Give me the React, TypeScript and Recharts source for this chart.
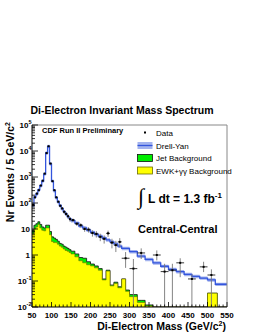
import React from 'react';
import { ComposedChart, Area, Line, Scatter, ErrorBar, XAxis, YAxis, ReferenceLine } from 'recharts';

// Drell-Yan expectation, events / 5 GeV, variable bins (left edges + last right edge)
const dyEdges = [
  50, 55, 60, 65, 70, 75, 80, 85, 90, 95, 100, 105, 110, 115, 120, 125, 130, 135, 140, 145,
  150, 160, 170, 180, 190, 200, 210, 220, 230, 240, 250, 260, 270,
  280, 300, 320, 340, 360, 380, 400, 420, 440, 460, 480, 500, 520, 540, 550,
];
const dyValues = [
  80, 170, 225, 320, 460, 700, 1300, 8500, 15000, 3200, 700, 300, 160, 110, 80, 60, 47, 38, 30, 25,
  21, 17, 13, 11, 9, 7.5, 6.2, 5.3, 4.5, 3.8, 3.2, 2.7, 2.2,
  1.8, 1.35, 0.9, 0.68, 0.5, 0.37, 0.28, 0.23, 0.18, 0.15, 0.13, 0.11, 0.075, 0.075,
];
const DY_SYST = 0.15;

// backgrounds, events / 5 GeV
const bgEdges = [
  50, 55, 60, 65, 70, 75, 80, 85, 90, 95, 100, 105, 110, 115, 120, 125, 130, 135, 140, 145,
  150, 160, 170, 180, 190, 200, 210, 220, 230, 240, 250, 260, 270, 280, 290, 300, 310, 320, 330, 340, 350,
  360, 500, 525, 550,
];
const ewkValues = [
  6.5, 10, 12, 15, 11, 9, 8.5, 11, 11, 6, 3.3, 3.0, 3.0, 2.6, 2.2, 2.0, 1.7, 1.5, 1.4, 1.25,
  1.1, 0.85, 0.6, 0.5, 0.42, 0.38, 0.32, 0.26, 0.11, 0.24, 0.065, 0.08, 0.055, 0.12, 0.04, 0.025, 0.025, 0.015, 0.015, 0.011, 0.011,
  0, 0.034, 0,
];
const jetValues = [
  2.5, 4, 4, 4, 4, 3, 2.5, 3, 3, 2, 1.7, 1.5, 1.0, 0.8, 0.6, 0.6, 0.5, 0.5, 0.4, 0.35,
  0.3, 0.25, 0.2, 0.25, 0.13, 0.07, 0.06, 0.04, 0.01, 0.02, 0.005, 0.01, 0.005, 0, 0.005, 0.005, 0.005, 0.003, 0.003, 0.001, 0.001,
  0, 0, 0,
];

// data, low/mid mass (symmetric errors)
const dataMassA = [
  52.5, 57.5, 62.5, 67.5, 72.5, 77.5, 82.5, 87.5, 92.5, 97.5, 102.5, 107.5, 112.5, 117.5, 122.5, 127.5, 132.5, 137.5, 142.5, 147.5,
  155, 165, 175, 185, 195, 205, 215, 225, 235, 245, 255, 265, 275,
];
const dataValA = [
  85, 165, 230, 310, 470, 720, 1350, 8300, 15200, 3300, 690, 310, 165, 112, 78, 62, 46, 38, 31, 24,
  22, 16, 14, 10, 9.5, 7, 6.5, 5, 4.2, 6.8, 3.0, 2.4, 3.2,
];
const dataErrA = [
  9, 13, 15, 18, 22, 27, 37, 91, 123, 57, 26, 18, 13, 11, 9, 8, 7, 6, 5.6, 4.9,
  3.3, 2.8, 2.6, 2.2, 2.2, 1.9, 1.8, 1.6, 1.45, 1.85, 1.2, 1.1, 1.26,
];
const dataHalfA = [
  2.5, 2.5, 2.5, 2.5, 2.5, 2.5, 2.5, 2.5, 2.5, 2.5, 2.5, 2.5, 2.5, 2.5, 2.5, 2.5, 2.5, 2.5, 2.5, 2.5,
  5, 5, 5, 5, 5, 5, 5, 5, 5, 5, 5, 5, 5,
];
// data, high mass (bar ends)
const dataMassB = [290, 310, 330, 370, 390, 410, 430, 460, 490, 510];
const dataValB = [0.75, 0.3, 1.2, 1.0, 0.23, 0.26, 0.5, 0.12, 0.35, 0.17];
const dataLoB = [0.32, 0.01, 0.7, 0.62, 0.01, 0.01, 0.14, 0.01, 0.22, 0.01];
const dataHiB = [1.3, 0.7, 1.8, 1.5, 0.46, 0.46, 0.75, 0.18, 0.55, 0.28];

const xTicks: number[] = [];
for (let m = 50; m <= 550; m += 10) xTicks.push(m);
const yMajors = [0.01, 0.1, 1, 10, 100, 1000, 10000, 100000];
const yTicks: number[] = [];
yMajors.forEach((d, i) => {
  yTicks.push(d);
  if (i < yMajors.length - 1) for (let k = 2; k <= 9; k++) yTicks.push(d * k);
});

const FLOOR = 0.01;
const FONT = 'Liberation Sans, Arial, Helvetica, sans-serif';

const dyRows = dyEdges.map((m, i) => {
  const v = dyValues[Math.min(i, dyValues.length - 1)];
  return { m, v, band: [v * (1 - DY_SYST), v * (1 + DY_SYST)] };
});
const bgRows = bgEdges.map((m, i) => {
  const j = Math.min(i, ewkValues.length - 1);
  return {
    m,
    tot: Math.max(ewkValues[j] + jetValues[j], FLOOR),
    ewk: Math.max(ewkValues[j], FLOOR),
  };
});
const pointRows = [
  ...dataMassA.map((m, i) => ({ m, v: dataValA[i], ey: [dataErrA[i], dataErrA[i]], ex: dataHalfA[i] })),
  ...dataMassB.map((m, i) => ({ m, v: dataValB[i], ey: [dataValB[i] - dataLoB[i], dataHiB[i] - dataValB[i]], ex: 10 })),
];

const XTick = (props: any) => {
  const { x, y, payload } = props;
  const major = payload.value % 50 === 0;
  return (
    <g>
      <line x1={x} x2={x} y1={y} y2={y - (major ? 5 : 2.5)} stroke="#000" strokeWidth={0.8} />
      {major && (
        <text x={x} y={y + 11} textAnchor="middle" fontSize={8} fontWeight="bold" fontFamily={FONT} fill="#000">
          {payload.value}
        </text>
      )}
    </g>
  );
};

const YTick = (props: any) => {
  const { x, y, payload } = props;
  const v = payload.value;
  const major = yMajors.includes(v);
  const exp = Math.round(Math.log10(v));
  return (
    <g>
      <line x1={x} x2={x + (major ? 6 : 3)} y1={y} y2={y} stroke="#000" strokeWidth={0.8} />
      {major && (exp === 0 || exp === 1) && (
        <text x={x - 2} y={y + 3} textAnchor="end" fontSize={8} fontWeight="bold" fontFamily={FONT} fill="#000">
          {exp === 0 ? '1' : '10'}
        </text>
      )}
      {major && exp !== 0 && exp !== 1 && (
        <text x={x - 0.5} y={y + 3} textAnchor="end" fontSize={8} fontWeight="bold" fontFamily={FONT} fill="#000">
          10<tspan dy={-4} fontSize={5.5}>{exp}</tspan>
        </text>
      )}
    </g>
  );
};

const renderDot = (props: any) => {
  const { cx, cy } = props;
  if (cx == null || cy == null) return <g />;
  return <rect x={cx - 1} y={cy - 1} width={2} height={2} fill="#000" />;
};

export default function App() {
  return (
    <div style={{ position: 'absolute', left: 0, top: 0, width: 258, height: 333, background: '#fff' }}>
      <ComposedChart width={258} height={333} margin={{ top: 125, right: 31, bottom: 6, left: 2 }}>
        <Area data={bgRows} dataKey="tot" type="stepAfter" baseValue={FLOOR} fill="#00ee00" fillOpacity={1}
          stroke="#111" strokeWidth={0.8} isAnimationActive={false} />
        <Area data={bgRows} dataKey="ewk" type="stepAfter" baseValue={FLOOR} fill="#ffff00" fillOpacity={1}
          stroke="#6b6b00" strokeWidth={0.6} isAnimationActive={false} />
        <Area data={dyRows} dataKey="band" type="stepAfter" fill="#a3b3ee" fillOpacity={1} stroke="none"
          isAnimationActive={false} />
        <Line data={dyRows} dataKey="v" type="stepAfter" stroke="#3355dd" strokeWidth={1.3} dot={false}
          isAnimationActive={false} />
        <Scatter data={pointRows} dataKey="v" fill="#000" shape={renderDot} isAnimationActive={false}>
          <ErrorBar dataKey="ey" direction="y" width={0} stroke="#777" strokeWidth={0.9} />
          <ErrorBar dataKey="ex" direction="x" width={0} stroke="#222" strokeWidth={0.9} />
        </Scatter>
        <ReferenceLine x={550} stroke="#888" strokeWidth={1} />
        <ReferenceLine y={100000} stroke="#888" strokeWidth={1} />
        <XAxis dataKey="m" type="number" domain={[50, 550]} allowDataOverflow ticks={xTicks} interval={0}
          height={20} tickSize={0} tickMargin={0} tickLine={false} tick={<XTick />}
          axisLine={{ stroke: '#000', strokeWidth: 1 }} />
        <YAxis type="number" scale="log" domain={[0.01, 100000]} allowDataOverflow ticks={yTicks} interval={0}
          width={30} tickSize={0} tickMargin={0} tickLine={false} tick={<YTick />}
          axisLine={{ stroke: '#000', strokeWidth: 1 }} />
      </ComposedChart>
      <svg width={258} height={333} style={{ position: 'absolute', left: 0, top: 0, pointerEvents: 'none' }}
        fontFamily={FONT}>
        <text x={122} y={114} textAnchor="middle" fontSize={10.5} fontWeight="bold">
          Di-Electron Invariant Mass Spectrum
        </text>
        <text x={42} y={133} fontSize={7.5} fontWeight="bold">CDF Run II Preliminary</text>

        <rect x={144} y={131.5} width={2} height={2} fill="#000" />
        <text x={156} y={135.5} fontSize={8}>Data</text>
        <rect x={137.5} y={142} width={15} height={7} fill="#a3b3ee" />
        <line x1={137.5} x2={152.5} y1={145.5} y2={145.5} stroke="#3355dd" strokeWidth={1.3} />
        <text x={156} y={148.5} fontSize={8}>Drell-Yan</text>
        <rect x={137.5} y={154.5} width={15} height={7} fill="#00ee00" stroke="#111" strokeWidth={0.8} />
        <text x={156} y={161} fontSize={8}>Jet Background</text>
        <rect x={137.5} y={167} width={15} height={7} fill="#ffff00" stroke="#6b6b00" strokeWidth={0.8} />
        <text x={156} y={173.5} fontSize={8}>EWK+γγ Background</text>

        <text x={138} y={204} fontSize={22} fontFamily="Liberation Serif, DejaVu Serif, serif">∫</text>
        <text x={148} y={203} fontSize={12} fontWeight="bold">
          L dt = 1.3 fb<tspan dy={-5} fontSize={8}>-1</tspan>
        </text>
        <text x={138} y={233} fontSize={11} fontWeight="bold">Central-Central</text>

        <text x={226} y={330} textAnchor="end" fontSize={10.5} fontWeight="bold">
          Di-Electron Mass (GeV/c<tspan dy={-4} fontSize={7}>2</tspan><tspan dy={4}>)</tspan>
        </text>
        <text x={14} y={122} transform="rotate(-90 14 122)" textAnchor="end" fontSize={10.5} fontWeight="bold">
          Nr Events / 5 GeV/c<tspan dy={-4} fontSize={7}>2</tspan>
        </text>
      </svg>
    </div>
  );
}
